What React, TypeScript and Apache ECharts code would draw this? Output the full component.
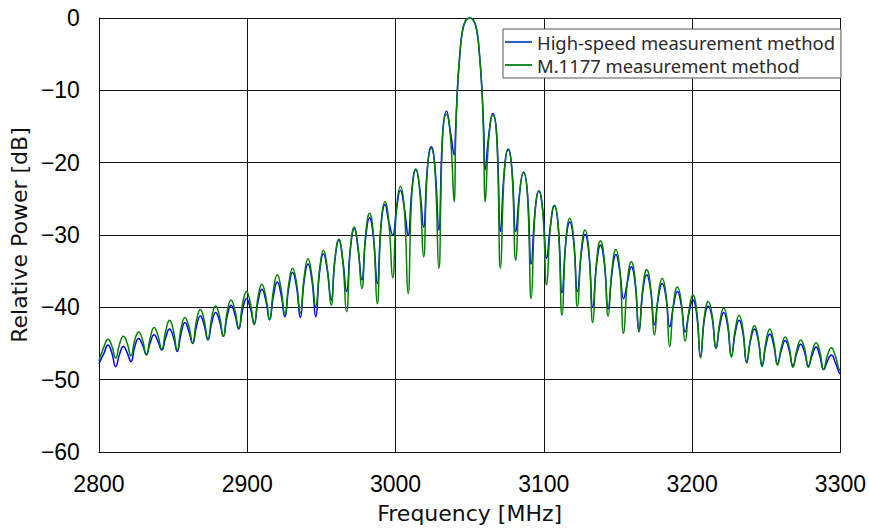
import React, { useEffect, useRef } from "react";
import * as echarts from "echarts";

const seriesNames = ["High-speed measurement method", "M.1177 measurement method"];
const xTicks = { min: 2800, max: 3300, interval: 100 };
const yTicks = { min: -60, max: 0, interval: 10 };

const freqs = [
  2800.0,
  2803.5, 2806.1, 2808.7, 2811.3,
  2813.9, 2816.5, 2819.1, 2821.6,
  2824.2, 2826.8, 2829.4, 2832.0,
  2834.6, 2837.2, 2839.8, 2842.4,
  2845.0, 2847.6, 2850.2, 2852.8,
  2855.4, 2858.0, 2860.6, 2863.2,
  2865.8, 2868.4, 2870.9, 2873.5,
  2876.1, 2878.7, 2881.3, 2883.9,
  2886.5, 2889.1, 2891.7, 2894.3,
  2896.9, 2899.5, 2902.1, 2904.7,
  2907.3, 2909.9, 2912.5, 2915.1,
  2917.7, 2920.3, 2922.8, 2925.4,
  2928.0, 2930.6, 2933.2, 2935.8,
  2938.4, 2941.0, 2943.6, 2946.2,
  2948.8, 2951.4, 2954.0, 2956.6,
  2959.2, 2961.8, 2964.4, 2967.0,
  2969.6, 2972.2, 2974.7, 2977.3,
  2979.9, 2982.5, 2985.1, 2987.7,
  2990.3, 2992.9, 2995.5, 2998.1,
  3000.7, 3003.3, 3005.9, 3008.5,
  3011.1, 3013.7, 3016.3, 3018.9,
  3021.5, 3024.1, 3026.6, 3029.2,
  3031.8, 3034.4, 3037.0, 3039.6,
  3040.5, 3041.7, 3043.4, 3045.0, 3047.2, 3050.0, 3052.8, 3055.0, 3056.6, 3058.3, 3059.5, 3060.4,
  3063.0, 3065.6, 3068.2, 3070.8,
  3073.4, 3076.0, 3078.5, 3081.1,
  3083.7, 3086.3, 3088.9, 3091.5,
  3094.1, 3096.7, 3099.3, 3101.9,
  3104.5, 3107.1, 3109.7, 3112.3,
  3114.9, 3117.5, 3120.1, 3122.7,
  3125.3, 3127.8, 3130.4, 3133.0,
  3135.6, 3138.2, 3140.8, 3143.4,
  3146.0, 3148.6, 3151.2, 3153.8,
  3156.4, 3159.0, 3161.6, 3164.2,
  3166.8, 3169.4, 3172.0, 3174.6,
  3177.2, 3179.8, 3182.4, 3184.9,
  3187.5, 3190.1, 3192.7, 3195.3,
  3197.9, 3200.5, 3203.1, 3205.7,
  3208.3, 3210.9, 3213.5, 3216.1,
  3218.7, 3221.3, 3223.9, 3226.5,
  3229.1, 3231.7, 3234.2, 3236.8,
  3239.4, 3242.0, 3244.6, 3247.2,
  3249.8, 3252.4, 3255.0, 3257.6,
  3260.2, 3262.8, 3265.4, 3268.0,
  3270.6, 3273.2, 3275.8, 3278.4,
  3281.0, 3283.6, 3286.1, 3288.7,
  3291.3, 3293.9, 3296.5, 3299.1,
  3300.0,
];

const highSpeed = [
  -47.8,
  -46.3, -45.2, -46.3, -48.2,
  -46.5, -45.4, -46.3, -47.5,
  -45.4, -44.3, -45.2, -46.5,
  -44.9, -43.8, -44.7, -45.9,
  -44.2, -43.0, -44.1, -46.1,
  -43.6, -42.1, -43.3, -45.0,
  -42.6, -41.2, -42.4, -44.5,
  -42.1, -40.7, -41.9, -44.0,
  -41.2, -39.7, -41.0, -43.0,
  -40.3, -38.8, -40.1, -42.2,
  -39.2, -37.5, -39.0, -41.7,
  -38.4, -36.5, -38.2, -41.3,
  -37.3, -35.2, -37.1, -41.4,
  -36.3, -34.0, -36.2, -41.3,
  -35.1, -32.6, -34.9, -39.0,
  -33.3, -30.7, -33.4, -37.8,
  -31.8, -29.1, -31.8, -36.2,
  -30.3, -27.6, -30.3, -36.7,
  -28.6, -25.8, -28.2, -30.0,
  -26.4, -23.8, -26.2, -30.0,
  -23.7, -20.9, -23.5, -28.9,
  -20.7, -17.8, -20.6, -29.3,
  -15.9, -12.9, -15.7, -18.9,
  -15.5, -10.0, -5.0, -2.0, -0.4, 0, -0.4, -2.0, -5.0, -10.0, -15.5, -21.0,
  -16.0, -13.2, -16.0, -29.5,
  -21.0, -18.1, -20.9, -29.5,
  -24.1, -21.3, -24.0, -34.0,
  -26.7, -23.9, -26.6, -33.2,
  -28.7, -26.0, -28.7, -38.0,
  -30.9, -28.2, -30.8, -37.8,
  -32.5, -29.9, -32.6, -40.0,
  -34.0, -31.4, -33.9, -40.2,
  -35.2, -32.7, -35.0, -38.8,
  -36.5, -34.4, -36.7, -43.2,
  -37.7, -35.5, -37.6, -42.4,
  -38.7, -36.7, -38.6, -42.7,
  -39.7, -37.8, -39.7, -43.4,
  -40.8, -39.0, -41.0, -46.8,
  -41.6, -39.8, -41.5, -45.6,
  -42.5, -40.7, -42.5, -46.7,
  -43.5, -41.8, -43.5, -47.5,
  -44.6, -43.0, -44.6, -48.0,
  -45.2, -43.7, -45.2, -47.8,
  -45.9, -44.6, -45.9, -48.1,
  -46.3, -45.1, -46.2, -48.1,
  -46.6, -45.5, -46.7, -48.6,
  -47.4, -46.6, -47.6, -49.0,
  -49.2,
];

const m1177 = [
  -47.4,
  -45.4, -44.4, -45.3, -47.0,
  -45.1, -44.0, -45.0, -46.7,
  -44.5, -43.4, -44.5, -46.6,
  -44.2, -42.8, -43.9, -45.8,
  -43.3, -41.8, -43.2, -45.9,
  -42.9, -41.4, -42.6, -44.9,
  -41.8, -40.3, -41.7, -44.4,
  -41.4, -39.8, -41.2, -44.0,
  -40.6, -39.0, -40.4, -42.9,
  -39.5, -37.8, -39.4, -42.4,
  -38.6, -36.8, -38.5, -41.7,
  -37.6, -35.5, -37.4, -41.0,
  -36.8, -34.6, -36.6, -40.8,
  -35.8, -33.3, -35.7, -39.9,
  -34.8, -32.1, -34.6, -39.7,
  -33.3, -30.6, -33.5, -40.6,
  -31.8, -28.9, -31.7, -37.4,
  -29.9, -27.0, -30.0, -39.5,
  -28.4, -25.4, -28.3, -35.9,
  -26.3, -23.3, -26.3, -38.1,
  -23.9, -20.9, -23.8, -33.0,
  -21.0, -18.0, -21.0, -34.6,
  -16.3, -13.3, -16.3, -25.4,
  -17.0, -10.0, -5.0, -2.0, -0.4, 0, -0.4, -2.0, -5.0, -10.0, -17.5, -25.4,
  -16.4, -13.4, -16.4, -34.6,
  -21.2, -18.2, -21.2, -33.5,
  -24.3, -21.4, -24.3, -38.8,
  -26.8, -23.9, -26.8, -36.9,
  -28.7, -25.9, -28.8, -41.1,
  -30.6, -27.7, -30.5, -39.9,
  -32.1, -29.3, -32.2, -42.1,
  -33.6, -30.8, -33.5, -41.2,
  -34.7, -32.0, -34.7, -43.6,
  -36.3, -33.7, -36.3, -43.4,
  -37.2, -34.8, -37.2, -43.8,
  -38.3, -36.0, -38.3, -45.4,
  -39.4, -37.2, -39.3, -44.7,
  -40.4, -38.3, -40.5, -47.0,
  -41.2, -39.2, -41.1, -45.7,
  -42.0, -40.1, -42.0, -46.9,
  -43.0, -41.1, -43.0, -47.7,
  -44.3, -42.5, -44.3, -48.2,
  -44.7, -43.0, -44.7, -48.0,
  -45.5, -44.1, -45.5, -48.3,
  -45.9, -44.5, -45.7, -48.3,
  -46.1, -44.9, -46.1, -48.6,
  -46.6, -45.6, -46.7, -48.6,
  -48.7,
];

const lineColors = ["#0000ff", "#008000"];
const legendColors = ["#2f5fc0", "#1f8a2f"];

function pairs(xs: number[], ys: number[]) {
  const n = Math.min(xs.length, ys.length);
  const out: number[][] = [];
  for (let i = 0; i < n; i++) out.push([xs[i], ys[i]]);
  return out;
}

const minus = (v: number) => (v < 0 ? "\u2212" + Math.abs(v) : String(v));

export default function App() {
  const ref = useRef<HTMLDivElement>(null);
  useEffect(() => {
    if (!ref.current) return;
    const chart = echarts.init(ref.current, undefined, { renderer: "svg" });
    const gridColor = "#111";
    chart.setOption({
      animation: false,
      backgroundColor: "#fff",
      grid: { left: 97, top: 18, width: 748, height: 434, containLabel: false },
      legend: {
        orient: "vertical",
        left: 503,
        top: 29,
        icon: "rect",
        itemWidth: 27,
        itemHeight: 2,
        itemGap: 3,
        padding: [3, 6, 3, 2],
        borderColor: "#555",
        borderWidth: 1,
        borderRadius: 0,
        backgroundColor: "#fff",
        textStyle: { fontFamily: "Noto Sans", fontSize: 18.4, color: "#2a2a2a", lineHeight: 20 },
        data: seriesNames.map((n, i) => ({ name: n, itemStyle: { color: legendColors[i] } })),
      },
      xAxis: {
        type: "value",
        min: xTicks.min,
        max: xTicks.max,
        interval: xTicks.interval,
        name: "Frequency [MHz]",
        nameLocation: "middle",
        nameGap: 50,
        nameTextStyle: { fontFamily: "DejaVu Sans", fontSize: 22, color: "#111" },
        axisLine: { show: true, onZero: false, lineStyle: { color: gridColor, width: 1 } },
        axisTick: { show: false },
        axisLabel: {
          margin: 20,
          fontFamily: "Liberation Sans",
          fontSize: 23,
          color: "#000",
          formatter: (v: number) => String(v),
        },
        splitLine: { show: true, lineStyle: { color: gridColor, width: 1 } },
      },
      yAxis: {
        type: "value",
        min: yTicks.min,
        max: yTicks.max,
        interval: yTicks.interval,
        name: "Relative Power [dB]",
        nameLocation: "middle",
        nameGap: 62,
        nameTextStyle: { fontFamily: "DejaVu Sans", fontSize: 22, color: "#111" },
        axisLine: { show: true, onZero: false, lineStyle: { color: gridColor, width: 1 } },
        axisTick: { show: false },
        axisLabel: {
          margin: 19,
          fontFamily: "Liberation Sans",
          fontSize: 23,
          color: "#000",
          formatter: (v: number) => minus(v),
        },
        splitLine: { show: true, lineStyle: { color: gridColor, width: 1 } },
      },
      series: [
        {
          name: seriesNames[0],
          type: "line",
          data: pairs(freqs, highSpeed),
          showSymbol: false,
          smooth: 0.5,
          lineStyle: { color: lineColors[0], width: 1.5 },
          itemStyle: { color: lineColors[0] },
        },
        {
          name: seriesNames[1],
          type: "line",
          data: pairs(freqs, m1177),
          showSymbol: false,
          smooth: 0.5,
          lineStyle: { color: lineColors[1], width: 1.5 },
          itemStyle: { color: lineColors[1] },
        },
      ],
    });
    return () => chart.dispose();
  }, []);
  return (
    <div
      ref={ref}
      style={{ position: "fixed", left: 0, top: 0, width: 869, height: 531, background: "#fff" }}
    />
  );
}
